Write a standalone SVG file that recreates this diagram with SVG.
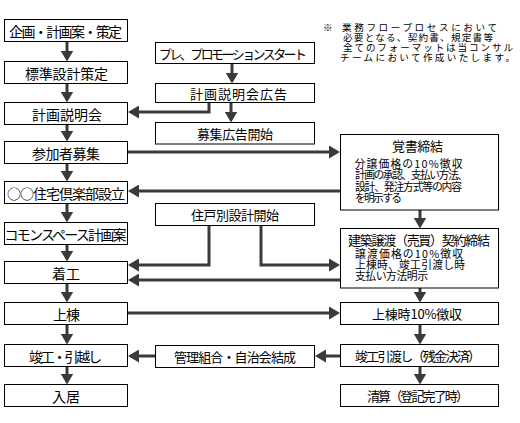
<svg xmlns="http://www.w3.org/2000/svg" width="520" height="423" viewBox="0 0 520 423">
<defs>
<marker id="ah" markerUnits="userSpaceOnUse" markerWidth="11" markerHeight="13" viewBox="0 0 11 13" refX="8" refY="6.5" orient="auto">
<path d="M0,0 L11,6.5 L0,13 Z" fill="#3a3a3a"/>
</marker>
<style>
rect{fill:#fff;stroke:#000;stroke-width:1}
text{font-family:"Noto Sans CJK JP","Noto Sans CJK SC",sans-serif;fill:#000;dominant-baseline:central}
.l{font-size:14px}
.m{font-size:13px}
.b{font-size:10.8px}
.n{font-size:9.6px}
.c{fill:none;stroke:#3a3a3a;stroke-width:3;marker-end:url(#ah)}
</style>
</defs>
<rect x="0" y="0" width="520" height="423" style="fill:#fff;stroke:none"/>

<g id="connectors">
<path class="c" d="M67,41.5 V58.5"/>
<path class="c" d="M67,83.5 V99.5"/>
<path class="c" d="M67,124.5 V138.5"/>
<path class="c" d="M67,163.5 V178.5"/>
<path class="c" d="M67,203.5 V219.5"/>
<path class="c" d="M67,244.5 V258.5"/>
<path class="c" d="M67,283.5 V299.5"/>
<path class="c" d="M67,324.5 V341.5"/>
<path class="c" d="M67,366.5 V381.5"/>
<path class="c" d="M232,63.5 V80.5"/>
<path class="c" d="M231,102.5 V119.5"/>
<path class="c" d="M209,102.5 V112 H131"/>
<path class="c" d="M127.5,152 H337"/>
<path class="c" d="M340.5,191 H131"/>
<path class="c" d="M209,225.5 V265 H131"/>
<path class="c" d="M261,225.5 V265 H337"/>
<path class="c" d="M340.5,280 H131"/>
<path class="c" d="M127.5,313 H337"/>
<path class="c" d="M340.5,356 H318"/>
<path class="c" d="M155.5,356 H131"/>
<path class="c" d="M420,210 V225.5"/>
<path class="c" d="M420,288 V299.5"/>
<path class="c" d="M420,324.5 V341.5"/>
<path class="c" d="M420,366.5 V381.5"/>
</g>

<g id="note">
<text class="n"><tspan x="323" y="27">※</tspan><tspan x="342" y="27" textLength="155">業務フロープロセスにおいて</tspan><tspan x="343" y="37" textLength="150">必要となる、契約書、規定書等</tspan><tspan x="343" y="47" textLength="170">全てのフォーマットは当コンサル</tspan><tspan x="340" y="57" textLength="175">チームにおいて作成いたします。</tspan></text>
</g>

<g id="n1"><rect x="4.5" y="19.5" width="123" height="22"/><text class="l" x="9" y="30.5" textLength="113">企画・計画案・策定</text></g>
<g id="n2"><rect x="4.5" y="61.5" width="123" height="22"/><text class="l" x="25" y="72.5" textLength="83">標準設計策定</text></g>
<g id="n3"><rect x="4.5" y="102.5" width="123" height="22"/><text class="l" x="32" y="113.5" textLength="70">計画説明会</text></g>
<g id="n4"><rect x="4.5" y="141.5" width="123" height="22"/><text class="l" x="32" y="152.5" textLength="68">参加者募集</text></g>
<g id="n5"><rect x="4.5" y="181.5" width="123" height="22"/><text class="l" x="7" y="192.5" textLength="118">○○住宅倶楽部設立</text></g>
<g id="n6"><rect x="4.5" y="222.5" width="123" height="22"/><text class="l" x="4.5" y="233.5" textLength="122">コモンスペース計画案</text></g>
<g id="n7"><rect x="4.5" y="261.5" width="123" height="22"/><text class="l" x="52" y="272.5" textLength="28">着工</text></g>
<g id="n8"><rect x="4.5" y="302.5" width="123" height="22"/><text class="l" x="53" y="313.5" textLength="27">上棟</text></g>
<g id="n9"><rect x="4.5" y="344.5" width="123" height="22"/><text class="l" x="29" y="355.5" textLength="73">竣工・引越し</text></g>
<g id="n10"><rect x="4.5" y="384.5" width="123" height="22"/><text class="l" x="52" y="395.5" textLength="28">入居</text></g>

<g id="m1"><rect x="155.5" y="42.5" width="159" height="21"/><text class="m" x="159" y="53" textLength="148">プレ、プロモーションスタート</text></g>
<g id="m2"><rect x="155.5" y="83.5" width="159" height="19"/><text class="m" x="190" y="93" textLength="97">計画説明会広告</text></g>
<g id="m3"><rect x="155.5" y="122.5" width="159" height="21.5"/><text class="m" x="197" y="133.5" textLength="76">募集広告開始</text></g>
<g id="m4"><rect x="155.5" y="203.5" width="159" height="22"/><text class="m" x="191" y="214.5" textLength="88">住戸別設計開始</text></g>
<g id="m5"><rect x="155.5" y="345.5" width="159" height="22"/><text class="m" x="174" y="356.5" textLength="122">管理組合・自治会結成</text></g>

<g id="r1"><rect x="340.5" y="134.5" width="158" height="75.5"/>
<text class="b"><tspan class="m" x="392" y="145" textLength="51">覚書締結</tspan><tspan x="354.5" y="162.5" textLength="108">分譲価格の10%徴収</tspan><tspan x="355" y="174" textLength="113">計画の承認、支払い方法、</tspan><tspan x="355" y="185.5" textLength="107">設計、発注方式等の内容</tspan><tspan x="355" y="197" textLength="47">を明示する</tspan></text>
</g>
<g id="r2"><rect x="340.5" y="228.5" width="158" height="59.5"/>
<text class="b"><tspan class="m" x="348" y="238.5" textLength="142">建築譲渡（売買）契約締結</tspan><tspan x="355" y="253" textLength="108">譲渡価格の10%徴収</tspan><tspan x="355" y="264" textLength="110">上棟時、竣工引渡し時</tspan><tspan x="355" y="275" textLength="73">支払い方法明示</tspan></text>
</g>
<g id="r3"><rect x="340.5" y="302.5" width="158" height="22"/><text class="m" x="372" y="313.5" textLength="90">上棟時10%徴収</text></g>
<g id="r4"><rect x="340.5" y="344.5" width="158" height="22"/><text class="m" x="355" y="355.5" textLength="126">竣工引渡し（残金決済）</text></g>
<g id="r5"><rect x="340.5" y="384.5" width="158" height="22"/><text class="m" x="367" y="395.5" textLength="102">清算（登記完了時）</text></g>
</svg>
